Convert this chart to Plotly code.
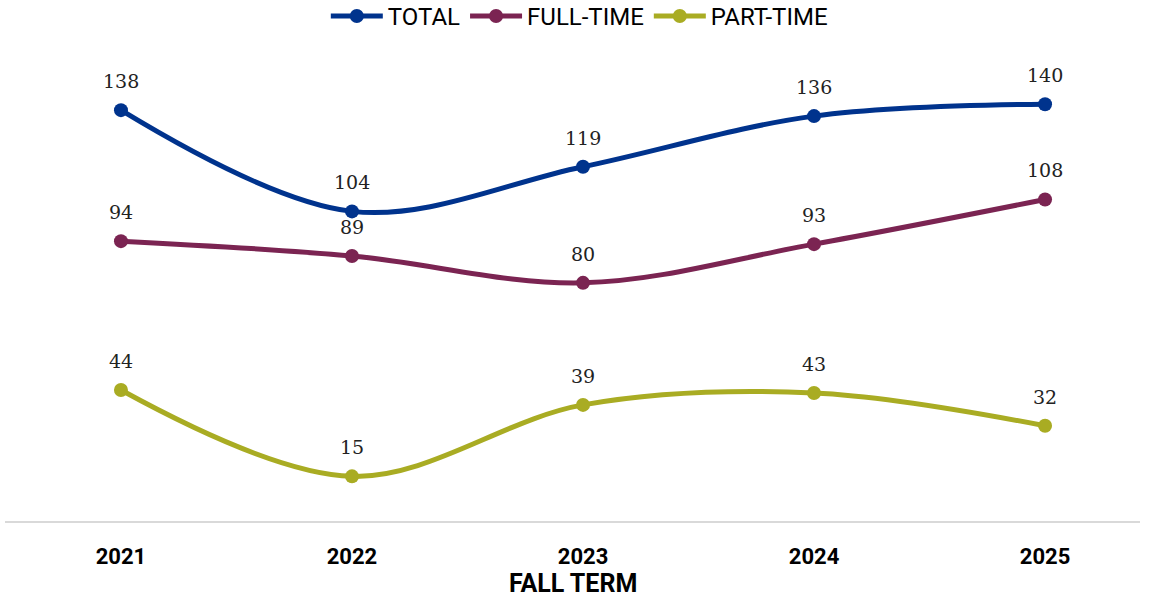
import plotly.graph_objects as go

years = ["2021", "2022", "2023", "2024", "2025"]
total = [138, 104, 119, 136, 140]
full_time = [94, 89, 80, 93, 108]
part_time = [44, 15, 39, 43, 32]

series = [
    ("TOTAL", total, "#00338D"),
    ("FULL-TIME", full_time, "#7B2452"),
    ("PART-TIME", part_time, "#A9AC23"),
]

xs = list(range(len(years)))
SANS = "Roboto, sans-serif"

fig = go.Figure()
for name, vals, color in series:
    fig.add_trace(go.Scatter(
        x=xs, y=vals, name=name, mode="lines+markers",
        line=dict(color=color, width=5, shape="spline", smoothing=1.0),
        marker=dict(color=color, size=14),
        cliponaxis=False,
    ))
    for x, v in zip(xs, vals):
        fig.add_annotation(
            x=x, y=v, xref="x", yref="y", text=str(v), showarrow=False, yshift=29,
            font=dict(family="DejaVu Serif", size=19, color="#222222"),
        )

fig.add_annotation(
    x=0.5, xref="paper", y=-0.1289, yref="paper", yanchor="middle",
    text="<b>FALL TERM</b>", showarrow=False,
    font=dict(family=SANS, size=25, color="black"),
)

fig.update_layout(
    width=1151, height=598,
    margin=dict(l=5, r=11, t=39, b=77, autoexpand=False),
    paper_bgcolor="white", plot_bgcolor="white",
    showlegend=True,
    legend=dict(orientation="h", x=0.506, xanchor="center", y=1.047, yanchor="middle",
                yref="paper", itemwidth=52,
                font=dict(family=SANS, size=24, color="black")),
    xaxis=dict(
        range=[-0.502, 4.411], automargin=False,
        tickmode="array", tickvals=xs, ticktext=years,
        showgrid=False, zeroline=False,
        showline=True, linecolor="#d9d9d9", linewidth=1.5,
        ticks="", tickfont=dict(family=SANS, size=22, color="black", weight="bold"),
        ticklabelstandoff=15,
    ),
    yaxis=dict(range=[0, 161.9], visible=False, showgrid=False, zeroline=False,
               automargin=False),
)

fig.write_html("out.html", config={"displayModeBar": False},
               post_script="document.body.style.margin='0';")
